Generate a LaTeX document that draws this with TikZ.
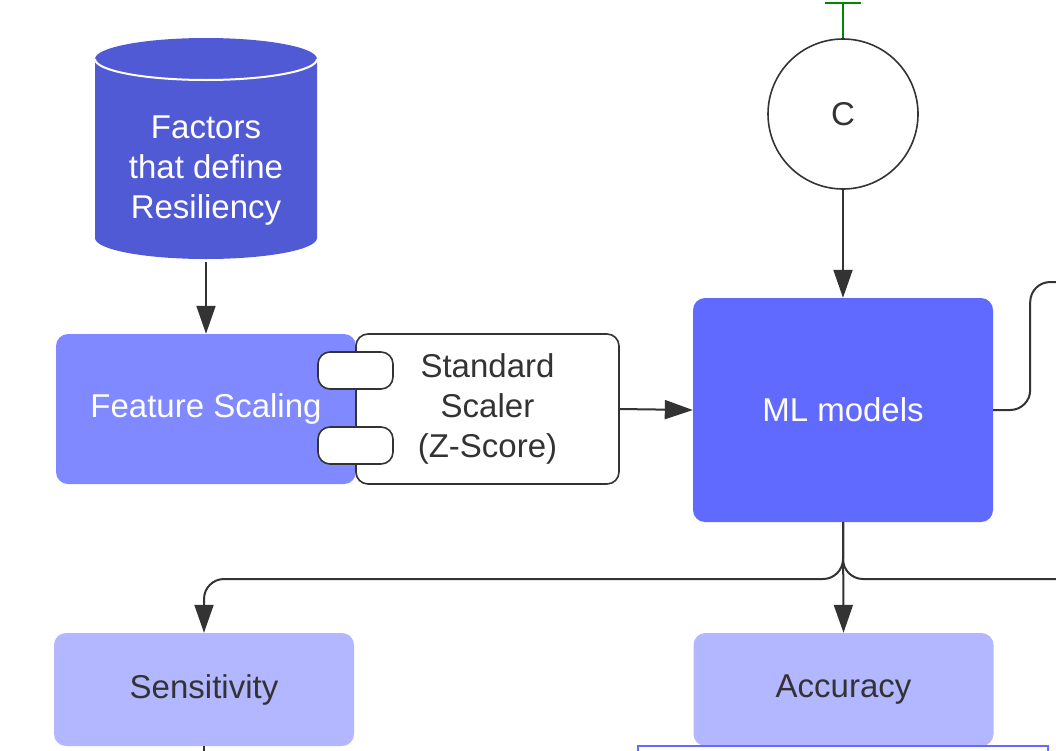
\documentclass[tikz,border=0pt]{standalone}
\usepackage{fontspec}
\setmainfont{Liberation Sans}
\usepackage{tikz}
\usetikzlibrary{arrows.meta, positioning, calc}
\definecolor{dbblue}{RGB}{81,90,213}
\definecolor{scaleblue}{RGB}{128,137,255}
\definecolor{mlblue}{RGB}{97,106,255}
\definecolor{metricblue}{RGB}{179,183,255}
\definecolor{evalblue}{RGB}{104,104,255}
\definecolor{textgray}{RGB}{51,51,51}
\definecolor{inhibitgreen}{RGB}{0,135,0}

\begin{document}
\begin{tikzpicture}[
    x=1pt, y=-1pt,
    box/.style={rounded corners=12pt, minimum width=300pt, align=center, font=\fontsize{33}{40}\selectfont},
    tab/.style={draw=textgray, line width=1.6pt, fill=white, rounded corners=12pt, minimum width=75pt, minimum height=37pt},
    arrow/.style={-{Triangle[length=28pt, width=19pt]}, line width=2pt, draw=textgray},
    line/.style={line width=2pt, draw=textgray}
]
    \clip (0,0) rectangle (1056,750);

    % Database
    \fill[dbblue] (95,59) -- (95,238) arc[start angle=180, end angle=360, x radius=111pt, y radius=21pt]
        -- (317,59) arc[start angle=0, end angle=180, x radius=111pt, y radius=21pt] -- cycle;
    \draw[white, line width=2pt] (95,59) arc[start angle=180, end angle=360, x radius=111pt, y radius=21pt];

    % Entities
    \node[align=center, text=white, font=\fontsize{33}{40}\selectfont, minimum width=222pt, minimum height=176pt] (db) at (206,171) {\rule{0pt}{16pt}Factors\\that define\\Resiliency};
    \node[box, fill=scaleblue, text=white, minimum height=150pt] (fs) at (206,409) {Feature Scaling};
    \node[box, draw=textgray, line width=1.6pt, fill=white, text=textgray, minimum width=263pt, minimum height=150pt] (ss) at (487.5,409) {Standard\\Scaler\\(Z-Score)};
    \node[tab] (tabA) at (355.5,370.5) {};
    \node[tab] (tabB) at (355.5,445.5) {};
    \node[box, fill=mlblue, text=white, minimum height=224pt] (ml) at (843,410) {ML models};
    \node[circle, draw=textgray, line width=1.6pt, fill=white, text=textgray, minimum size=150pt, font=\fontsize{33}{40}\selectfont] (c) at (843,114) {C};
    \node[box, fill=metricblue, text=textgray, minimum height=113pt] (sens) at (204,689.5) {Sensitivity};
    \node[box, fill=metricblue, text=textgray, minimum height=113pt] (acc) at (843.5,689.5) {Accuracy};
    \node[draw=evalblue, line width=1.6pt, minimum width=410pt, minimum height=108pt] (eval) at (843,800) {};

    \coordinate (ctop) at (843,2);
    \coordinate (mlout) at (1070,282);
    \coordinate (splitout) at (1070,579);
    \coordinate (sensout) at (204,770);

    % Relationships
    \draw[-{Bar[width=36pt]}, line width=2pt, draw=inhibitgreen] (c.north) -- (ctop);
    \draw[arrow] (c.south) -- (ml.north);
    \draw[arrow] (db.south) ++(0,3) -- (fs.north);
    \draw[arrow] (ss.east) -- (ml.west);
    \draw[line, rounded corners=20pt] (ml.east) -- ++(37,0) |- (mlout);
    \draw[arrow, rounded corners=20pt] (ml.south) |- (sens.north |- 0,579) -- (sens.north);
    \draw[line, rounded corners=20pt] (ml.south) |- (splitout);
    \draw[arrow] (ml.south) -- (acc.north);
    \draw[line] (sens.south) -- (sensout);
\end{tikzpicture}
\end{document}
